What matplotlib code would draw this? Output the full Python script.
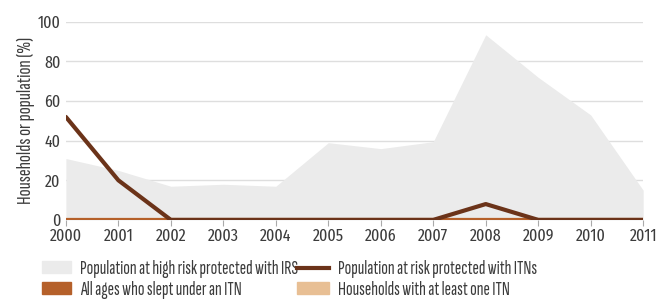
import matplotlib
matplotlib.use("Agg")
import matplotlib.pyplot as plt
from matplotlib.patches import Patch
from matplotlib.lines import Line2D

plt.rcParams['font.family'] = ['Fira Sans Extra Condensed', 'DejaVu Sans']

years = [2000, 2001, 2002, 2003, 2004, 2005, 2006, 2007, 2008, 2009, 2010, 2011]
irs = [31, 25, 17, 18, 17, 39, 36, 39.5, 93.5, 72, 53, 15]
itn_pop = [52, 20, 0, 0, 0, 0, 0, 0, 8, 0, 0, 0]
slept_itn = [0] * 12
hh_itn = [0] * 12

txt = '#3c3c3c'
fs = 12.5
fig = plt.figure(figsize=(6.59, 3.0), dpi=100)
ax = fig.add_axes([0.1, 0.267, 0.876, 0.66])

ax.fill_between(years, 0, irs, color='#ebebeb', lw=0, zorder=1)
ax.plot(years, hh_itn, color='#e8bf94', lw=3, zorder=2)
ax.plot(years, slept_itn, color='#b5602a', lw=3, zorder=3)
ax.plot(years, itn_pop, color='#6b3319', lw=3, zorder=4, solid_capstyle='round')

ax.set_xlim(2000, 2011)
ax.set_ylim(0, 100)
ax.set_yticks([0, 20, 40, 60, 80, 100])
ax.set_xticks(years)
for y in [20, 40, 60, 80, 100]:
    ax.axhline(y, color='#dedede', lw=1, zorder=0)
ax.axhline(0, color='#aaaaaa', lw=1, zorder=1.5)
for s in ax.spines.values():
    s.set_visible(False)
ax.tick_params(axis='y', length=0, labelsize=fs, colors=txt, pad=4)
ax.tick_params(axis='x', length=4, color='#aaaaaa', labelsize=fs, labelcolor=txt, pad=2)
ax.set_ylabel('Households or population (%)', fontsize=15, color=txt, labelpad=2,
              family='Sofia Sans Extra Condensed')

col1 = [Patch(color='#ebebeb', label='Population at high risk protected with IRS'),
        Patch(color='#b5602a', label='All ages who slept under an ITN')]
col2 = [Line2D([], [], color='#6b3319', lw=3, label='Population at risk protected with ITNs'),
        Patch(color='#e8bf94', label='Households with at least one ITN')]
leg_kw = dict(loc='upper left', frameon=False, labelcolor=txt, handleheight=0.55,
              labelspacing=0.15, handletextpad=0.45, borderpad=0, borderaxespad=0,
              prop={'family': 'Sofia Sans Extra Condensed', 'size': 14})
fig.legend(handles=col1, bbox_to_anchor=(42 / 659, 1 - 260 / 300), handlelength=1.5, **leg_kw)
fig.legend(handles=col2, bbox_to_anchor=(297 / 659, 1 - 260 / 300), handlelength=1.65, **leg_kw)

fig.savefig('out.png', dpi=100)
